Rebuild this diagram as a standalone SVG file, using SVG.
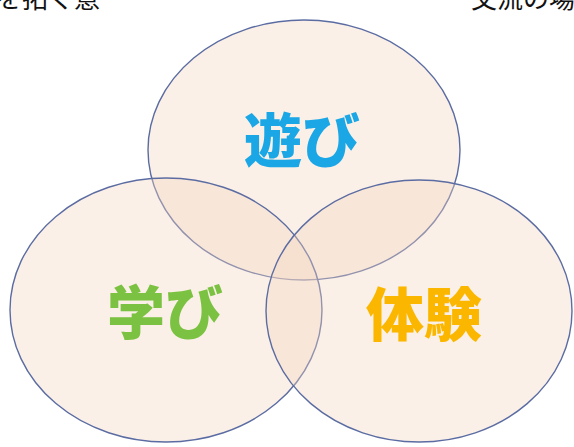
<svg xmlns="http://www.w3.org/2000/svg" width="574" height="447" viewBox="0 0 574 447">
<style>
.c{fill:#f4d6c0;fill-opacity:0.36;stroke:#5b6ca2;stroke-width:1.4}
.t{font-family:"Noto Sans CJK JP","Noto Sans",sans-serif;font-size:26px;fill:#111}
.l{font-family:"Noto Sans CJK JP","Noto Sans",sans-serif;font-weight:900;font-size:58px;text-anchor:middle}
</style>
<rect width="574" height="447" fill="#fff"/>
<text class="t" x="-4" y="8">を拓く意</text>
<text class="t" x="471" y="8">交流の場</text>
<g id="asobi">
<ellipse class="c" cx="304" cy="150" rx="156" ry="130"/>
</g>
<g id="manabi">
<ellipse class="c" cx="166" cy="310" rx="156" ry="132"/>
</g>
<g id="taiken">
<ellipse class="c" cx="419" cy="311" rx="153" ry="131"/>
</g>
<g id="labels">
<text class="l" x="302" y="162" fill="#1ba7e6">遊び</text>
<text class="l" x="165" y="334" fill="#7cc242">学び</text>
<text class="l" x="424" y="336" fill="#fbb700">体験</text>
</g>
<g id="connectors"></g>
</svg>
